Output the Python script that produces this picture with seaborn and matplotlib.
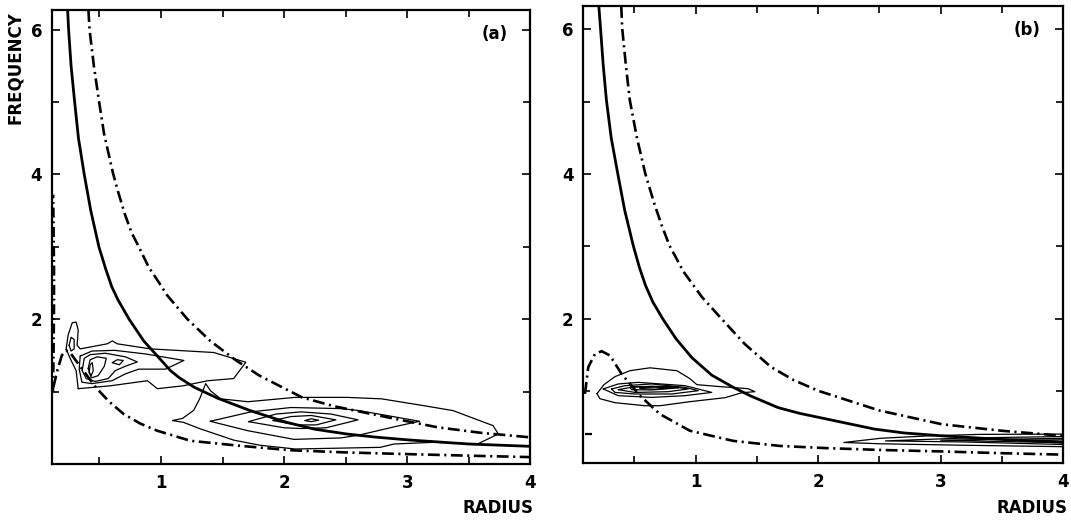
import matplotlib
matplotlib.use('Agg')
import matplotlib.pyplot as plt
from matplotlib.ticker import FixedLocator
import pandas as pd
import seaborn as sns

sns.set_theme(style='ticks')
plt.rcParams['font.family'] = ['DejaVu Sans']
plt.rcParams['font.weight'] = 'bold'
plt.rcParams['text.color'] = 'black'
plt.rcParams['xtick.color'] = 'black'
plt.rcParams['ytick.color'] = 'black'

# ── panel (a): curves (radius, frequency) ──────────────────────────────
a_solid_r = [0.242, 0.250, 0.270, 0.298, 0.330, 0.377, 0.430, 0.496, 0.550, 0.600, 0.650,
             0.741, 0.860, 1.003, 1.077, 1.150, 1.270, 1.458, 1.720, 2.010, 2.250, 2.510,
             2.750, 3.020, 3.500, 4.000]
a_solid_f = [6.27, 6.00, 5.50, 5.02, 4.50, 4.00, 3.50, 3.00, 2.70, 2.45, 2.27,
             2.00, 1.70, 1.43, 1.29, 1.19, 1.06, 0.91, 0.74, 0.58, 0.48, 0.414,
             0.37, 0.331, 0.276, 0.244]
a_upper_r = [0.411, 0.420, 0.455, 0.496, 0.538, 0.610, 0.650, 0.707, 0.760, 0.820, 0.900,
             0.990, 1.050, 1.215, 1.400, 1.610, 1.800, 2.145, 2.400, 2.710, 3.000, 3.245,
             3.600, 4.000]
a_upper_f = [6.27, 6.00, 5.50, 5.02, 4.56, 4.02, 3.77, 3.45, 3.20, 3.00, 2.72,
             2.49, 2.33, 2.00, 1.70, 1.43, 1.22, 0.92, 0.80, 0.69, 0.59, 0.507,
             0.43, 0.368]
a_lower_r = [0.126, 0.160, 0.195, 0.230, 0.270, 0.330, 0.400, 0.480, 0.580, 0.697, 0.830,
             0.969, 1.240, 1.650, 2.050, 2.500, 3.030, 3.500, 4.000]
a_lower_f = [1.06, 1.30, 1.50, 1.57, 1.52, 1.38, 1.22, 1.04, 0.86, 0.69, 0.56,
             0.46, 0.32, 0.25, 0.19, 0.16, 0.135, 0.115, 0.095]
a_edge_r = [0.125, 0.130, 0.133, 0.133, 0.130, 0.128, 0.126]
a_edge_f = [1.00, 1.60, 2.20, 2.70, 3.20, 3.50, 3.72]

# ── panel (a): contour lines ───────────────────────────────────────────
a_contours = [
    ([0.328, 0.311, 0.262, 0.230, 0.246, 0.279, 0.311, 0.328, 0.319, 0.344, 0.564, 0.605,
      0.645, 0.914, 1.428, 1.689, 1.590, 1.380, 1.180, 0.971, 0.890, 0.588, 0.328],
     [1.04, 1.29, 1.46, 1.59, 1.78, 1.95, 1.96, 1.85, 1.64, 1.59, 1.66, 1.70,
      1.66, 1.59, 1.54, 1.405, 1.18, 1.15, 1.08, 1.04, 1.15, 1.08, 1.04]),
    ([0.254, 0.270, 0.295, 0.295, 0.270, 0.254],
     [1.64, 1.75, 1.72, 1.59, 1.56, 1.64]),
    ([0.344, 0.439, 0.623, 0.874, 1.186, 1.036, 0.819, 0.711, 0.602, 0.439, 0.358, 0.336, 0.344],
     [1.49, 1.56, 1.57, 1.52, 1.43, 1.31, 1.31, 1.245, 1.15, 1.11, 1.13, 1.31, 1.49]),
    ([0.360, 0.377, 0.425, 0.548, 0.711, 0.808, 0.711, 0.629, 0.572, 0.466, 0.393, 0.360],
     [1.29, 1.46, 1.51, 1.53, 1.48, 1.41, 1.35, 1.29, 1.18, 1.14, 1.18, 1.29]),
    ([0.409, 0.425, 0.482, 0.556, 0.540, 0.490, 0.434, 0.409],
     [1.32, 1.44, 1.48, 1.46, 1.35, 1.22, 1.19, 1.32]),
    ([0.605, 0.645, 0.694, 0.662, 0.605],
     [1.40, 1.44, 1.43, 1.37, 1.40]),
    ([0.417, 0.425, 0.442, 0.450, 0.434, 0.417],
     [1.26, 1.37, 1.40, 1.29, 1.22, 1.26]),
    ([1.094, 1.175, 1.265, 1.314, 1.363, 1.403, 1.485, 1.705, 2.090, 2.510, 2.790, 3.133, 3.372,
      3.696, 3.739, 3.570, 3.217, 2.893, 2.780, 2.090, 1.800, 1.590, 1.320, 1.183, 1.094],
     [0.60, 0.63, 0.74, 0.90, 1.11, 1.01, 0.90, 0.86, 0.92, 0.92, 0.90, 0.806, 0.737,
      0.53, 0.415, 0.276, 0.30, 0.276, 0.23, 0.207, 0.26, 0.33, 0.485, 0.575, 0.60]),
    ([1.400, 1.730, 2.055, 2.460, 2.600, 3.100, 2.910, 2.610, 2.460, 2.080, 1.705, 1.400],
     [0.59, 0.72, 0.78, 0.765, 0.74, 0.59, 0.52, 0.40, 0.36, 0.34, 0.46, 0.59]),
    ([1.710, 1.935, 2.140, 2.380, 2.600, 2.340, 2.140, 2.000, 1.710],
     [0.585, 0.69, 0.72, 0.69, 0.61, 0.50, 0.49, 0.50, 0.585]),
    ([1.910, 2.055, 2.220, 2.420, 2.260, 2.100, 1.910],
     [0.60, 0.655, 0.67, 0.61, 0.54, 0.54, 0.60]),
    ([2.170, 2.220, 2.280, 2.220, 2.170],
     [0.60, 0.625, 0.605, 0.585, 0.60]),
]

# ── panel (b): curves ──────────────────────────────────────────────────
b_solid_r = [0.209, 0.223, 0.245, 0.271, 0.310, 0.364, 0.420, 0.490, 0.540, 0.590, 0.650,
             0.730, 0.840, 0.969, 1.130, 1.307, 1.450, 1.673, 1.850, 2.005, 2.460, 2.700,
             3.010, 3.500, 4.000]
b_solid_f = [6.32, 6.01, 5.50, 5.02, 4.50, 4.00, 3.50, 3.01, 2.71, 2.46, 2.23,
             2.00, 1.72, 1.46, 1.22, 1.05, 0.93, 0.77, 0.69, 0.635, 0.473, 0.42,
             0.38, 0.33, 0.29]
b_upper_r = [0.392, 0.400, 0.430, 0.462, 0.520, 0.589, 0.660, 0.720, 0.786, 0.900, 1.050,
             1.210, 1.400, 1.616, 1.800, 2.005, 2.500, 3.010, 3.500, 4.000]
b_upper_f = [6.32, 6.01, 5.50, 5.02, 4.50, 4.00, 3.60, 3.30, 3.01, 2.65, 2.30,
             2.00, 1.65, 1.33, 1.15, 1.00, 0.73, 0.54, 0.45, 0.38]
b_lower_r = [0.096, 0.123, 0.177, 0.232, 0.300, 0.395, 0.545, 0.708, 0.953, 1.307, 1.690,
             2.070, 2.500, 3.010, 3.500, 4.000]
b_lower_f = [0.96, 1.33, 1.51, 1.55, 1.49, 1.235, 0.935, 0.68, 0.45, 0.31, 0.24,
             0.21, 0.185, 0.164, 0.14, 0.12]
b_edge_r = [0.10, 0.15]
b_edge_f = [0.40, 0.40]

# ── panel (b): contour lines ───────────────────────────────────────────
b_contours = [
    ([0.194, 0.251, 0.341, 0.463, 0.627, 0.847, 0.953, 1.010, 1.199, 1.427, 1.484, 1.378,
      1.239, 0.953, 0.708, 0.586, 0.341, 0.218, 0.194],
     [0.963, 1.087, 1.198, 1.28, 1.32, 1.28, 1.17, 1.087, 1.06, 1.032, 0.99, 0.976,
      0.907, 0.852, 0.796, 0.796, 0.838, 0.893, 0.963]),
    ([0.245, 0.368, 0.531, 0.913, 1.131, 0.913, 0.640, 0.368, 0.245],
     [1.028, 1.097, 1.119, 1.073, 0.98, 0.935, 0.911, 0.935, 1.028]),
    ([0.314, 0.422, 0.640, 0.913, 1.021, 0.804, 0.504, 0.341, 0.314],
     [1.028, 1.073, 1.097, 1.05, 1.004, 0.958, 0.958, 0.98, 1.028]),
    ([0.368, 0.504, 0.776, 0.940, 0.776, 0.504, 0.368],
     [1.018, 1.06, 1.064, 1.028, 0.99, 0.98, 1.018]),
    ([0.463, 0.640, 0.858, 0.640, 0.477, 0.463],
     [1.05, 1.064, 1.042, 1.014, 1.018, 1.05]),
    ([0.545, 0.667, 0.790, 0.667, 0.545, 0.545],
     [1.046, 1.053, 1.039, 1.025, 1.032, 1.046]),
    ([4.00, 3.32, 2.91, 2.51, 2.21, 2.51, 3.18, 4.00],
     [0.404, 0.40, 0.38, 0.346, 0.288, 0.27, 0.25, 0.23]),
    ([4.00, 3.20, 2.55, 3.20, 4.00],
     [0.37, 0.35, 0.31, 0.295, 0.26]),
    ([4.00, 3.40, 3.00, 3.40, 4.00],
     [0.345, 0.33, 0.32, 0.305, 0.285]),
    ([4.00, 3.60, 4.00],
     [0.325, 0.318, 0.30]),
]

DASHDOT = (0, (4.5, 1.7, 0.8, 1.7))


def line(ax, r, f, **kw):
    d = pd.DataFrame({'r': r, 'f': f})
    sns.lineplot(data=d, x='r', y='f', ax=ax, sort=False, estimator=None,
                 color='black', legend=False, **kw)


def panel(ax, solid, upper, lower, edge, contours, lims, tag):
    for cr, cf in contours:
        line(ax, cr, cf, linewidth=0.9)
    line(ax, *solid, linewidth=2.0)
    line(ax, *upper, linewidth=1.9, linestyle=DASHDOT)
    line(ax, *lower, linewidth=1.9, linestyle=DASHDOT)
    line(ax, *edge, linewidth=1.6, linestyle=DASHDOT)

    ax.set_xlim(lims[0], 4.0)
    ax.set_ylim(0, lims[1])
    ax.xaxis.set_major_locator(FixedLocator([1, 2, 3, 4]))
    ax.xaxis.set_minor_locator(FixedLocator([0.5, 1.5, 2.5, 3.5]))
    ax.yaxis.set_major_locator(FixedLocator([2, 4, 6]))
    ax.yaxis.set_minor_locator(FixedLocator([1, 3, 5]))
    ax.tick_params(which='both', direction='in', top=True, right=True,
                   color='black', width=1.2, labelsize=12, labelcolor='black')
    ax.tick_params(which='major', length=6, pad=7)
    ax.tick_params(which='minor', length=5)
    for s in ax.spines.values():
        s.set_linewidth(1.6)
        s.set_color('black')
    ax.set_xlabel('')
    ax.set_ylabel('')
    ax.text(0.925, 0.948, tag, transform=ax.transAxes, ha='center', va='center',
            fontsize=12, fontweight='bold', color='black')


fig = plt.figure(figsize=(10.71, 5.20), dpi=100)
ax_a = fig.add_axes([0.0483, 0.1077, 0.447, 0.873])
ax_b = fig.add_axes([0.5446, 0.109, 0.448, 0.8794])

panel(ax_a, (a_solid_r, a_solid_f), (a_upper_r, a_upper_f), (a_lower_r, a_lower_f),
      (a_edge_r, a_edge_f), a_contours, (0.113, 6.27), '(a)')
panel(ax_b, (b_solid_r, b_solid_f), (b_upper_r, b_upper_f), (b_lower_r, b_lower_f),
      (b_edge_r, b_edge_f), b_contours, (0.082, 6.32), '(b)')

fig.text(0.014, 0.979, 'FREQUENCY', rotation=90, ha='center', va='top',
         fontsize=12, fontweight='bold', color='black')
fig.text(0.4977, 0.023, 'RADIUS', ha='right', va='center', fontsize=12,
         fontweight='bold', color='black')
fig.text(0.997, 0.023, 'RADIUS', ha='right', va='center', fontsize=12,
         fontweight='bold', color='black')

fig.savefig('out.png', dpi=100, facecolor='white')
